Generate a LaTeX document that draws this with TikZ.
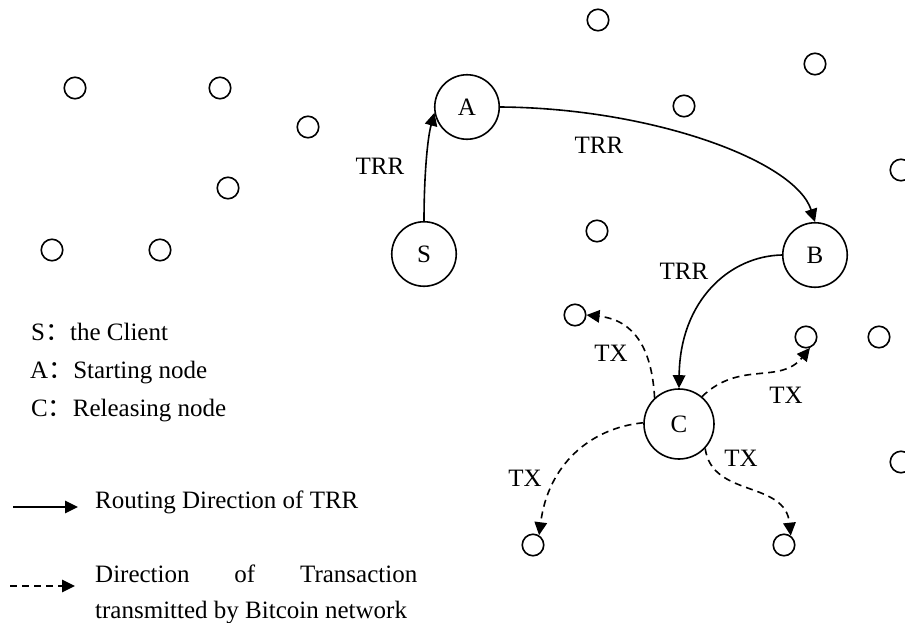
\documentclass[tikz,border=0pt]{standalone}
\usepackage{fontspec}
\setmainfont{Liberation Serif}
\newfontfamily\cjk{Noto Sans CJK SC}
\usetikzlibrary{arrows.meta}
\begin{document}
\begin{tikzpicture}[x=1pt,y=-1pt,
  font=\fontsize{25}{36}\selectfont,
  big/.style={circle,draw,line width=1.6pt,minimum size=64.5pt,inner sep=0pt},
  bigc/.style={big,minimum size=70pt},
  small/.style={circle,draw,line width=1.6pt,minimum size=21.5pt,inner sep=0pt},
  trr/.style={line width=1.6pt,-{Triangle[length=13pt,width=12.5pt]}},
  tx/.style={trr,dash pattern=on 7pt off 5pt},
  lbl/.style={inner sep=0pt}]
\clip (0,0) rectangle (905,622);
\fill[white] (0,0) rectangle (905,622);

% main nodes
\node[big] (A) at (467,107) {A};
\node[big] (S) at (424,254) {S};
\node[big] (B) at (815,255) {B};
\node[bigc] (C) at (679,424) {C};

% other nodes
\node[small] (n1) at (598,20) {};
\node[small] (n2) at (75,88) {};
\node[small] (n3) at (220,88) {};
\node[small] (n4) at (815,64) {};
\node[small] (n5) at (684,106) {};
\node[small] (n6) at (308,127) {};
\node[small] (n7) at (228,188) {};
\node[small] (n8) at (901,170) {};
\node[small] (n9) at (52,250) {};
\node[small] (n10) at (160,250) {};
\node[small] (n11) at (597,231) {};
\node[small] (n12) at (575,315) {};
\node[small] (n13) at (806,337) {};
\node[small] (n14) at (879,337) {};
\node[small] (n15) at (901,462) {};
\node[small] (n16) at (533,545) {};
\node[small] (n17) at (784,545) {};

% TRR routing
\draw[trr] (S.north) .. controls (424,180) and (427,140) .. (A.190);
\draw[trr] (A.east) .. controls (650,108) and (795,160) .. (B.north);
\draw[trr] (B.west) .. controls (730,256) and (680,300) .. (C.north);

% TX propagation
\draw[tx] (C.133) .. controls (652,350) and (635,320) .. (n12.east);
\draw[tx] (C.50) .. controls (740,360) and (780,385) .. (n13.-70);
\draw[tx] (C.178) .. controls (590,428) and (548,465) .. (n16.58);
\draw[tx] (C.-43) .. controls (712,498) and (785,480) .. (n17.54);

% edge labels
\node[lbl] (l1) at (380,166) {TRR};
\node[lbl] (l2) at (599,145) {TRR};
\node[lbl] (l3) at (684,271) {TRR};
\node[lbl] (l4) at (611,353) {TX};
\node[lbl] (l5) at (786,395) {TX};
\node[lbl] (l6) at (741,458) {TX};
\node[lbl] (l7) at (525,478) {TX};

% legend
\node[lbl,anchor=base west] (k1) at (31,340) {S{\cjk ：}the Client};
\node[lbl,anchor=base west] (k2) at (30,378) {A{\cjk ：}Starting node};
\node[lbl,anchor=base west] (k3) at (31,416) {C{\cjk ：}Releasing node};

\coordinate (a1s) at (13,507);
\coordinate (a1e) at (78,507);
\draw[trr] (a1s) -- (a1e);
\node[lbl,anchor=base west] (k4) at (95,508) {Routing Direction of TRR};

\coordinate (a2s) at (10,586);
\coordinate (a2e) at (75,586);
\draw[tx] (a2s) -- (a2e);
\node[lbl,anchor=base west,align=left] (k5) at (95,618)
  {\makebox[322pt][s]{Direction\hfill of\hfill Transaction}\\transmitted by Bitcoin network};
\end{tikzpicture}
\end{document}
